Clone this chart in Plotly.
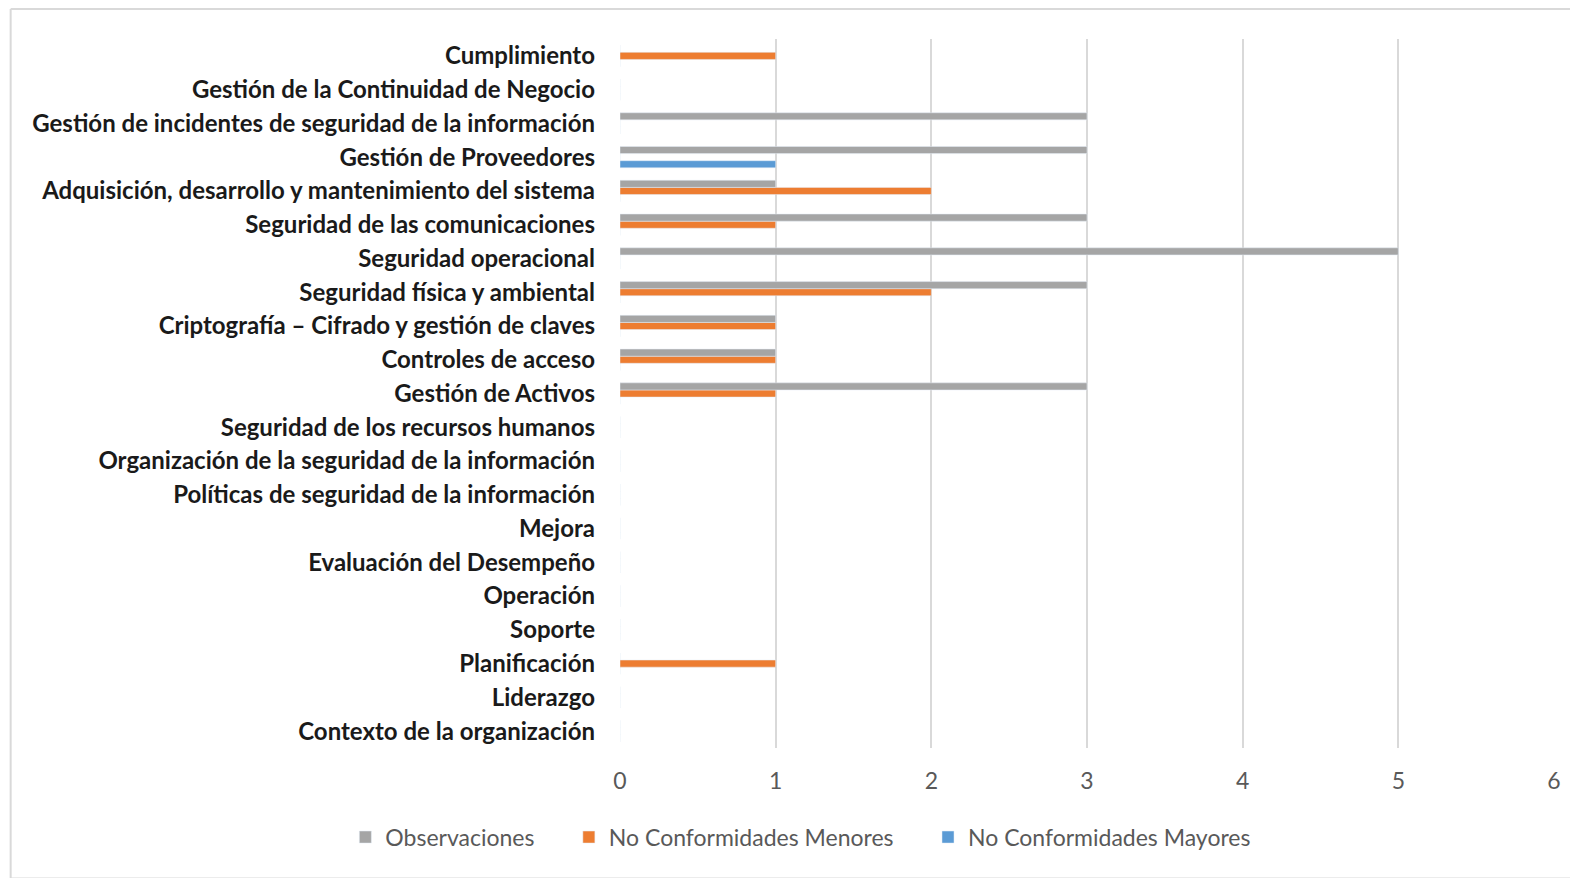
"""Hallazgos de auditoría por dominio (barras horizontales agrupadas)."""

import plotly.graph_objects as go

categorias = [
    "Contexto de la organización",
    "Liderazgo",
    "Planificación",
    "Soporte",
    "Operación",
    "Evaluación del Desempeño",
    "Mejora",
    "Políticas de seguridad de la información",
    "Organización de la seguridad de la información",
    "Seguridad de los recursos humanos",
    "Gestión de Activos",
    "Controles de acceso",
    "Criptografía – Cifrado y gestión de claves",
    "Seguridad física y ambiental",
    "Seguridad operacional",
    "Seguridad de las comunicaciones",
    "Adquisición, desarrollo y mantenimiento del sistema",
    "Gestión de Proveedores",
    "Gestión de incidentes de seguridad de la información",
    "Gestión de la Continuidad de Negocio",
    "Cumplimiento",
]

observaciones = [0, 0, 0, 0, 0, 0, 0, 0, 0, 0, 3, 1, 1, 3, 5, 3, 1, 3, 3, 0, 0]
nc_menores = [0, 0, 1, 0, 0, 0, 0, 0, 0, 0, 1, 1, 1, 2, 0, 1, 2, 0, 0, 0, 1]
nc_mayores = [0, 0, 0, 0, 0, 0, 0, 0, 0, 0, 0, 0, 0, 0, 0, 0, 0, 1, 0, 0, 0]

x_ticks = [0, 1, 2, 3, 4, 5, 6]

pad = '\u00a0' * 5  # extra room between legend entries

fig = go.Figure()

# Excel puts the first series at the bottom of each group, so add in reverse
fig.add_trace(go.Bar(
    y=categorias, x=nc_mayores, orientation='h',
    name='No Conformidades Mayores', marker=dict(color='#5B9BD5'),
))
fig.add_trace(go.Bar(
    y=categorias, x=nc_menores, orientation='h',
    name='No Conformidades Menores' + pad, marker=dict(color='#ED7D31'),
))
fig.add_trace(go.Bar(
    y=categorias, x=observaciones, orientation='h',
    name='Observaciones' + pad, marker=dict(color='#A5A5A5'),
))

fig.update_xaxes(
    range=[0, 6], tickvals=x_ticks, showgrid=True, gridcolor='#D9D9D9',
    gridwidth=2, zeroline=False, showline=False, ticks='',
    tickfont=dict(family='Lato', size=23, color='#595959'),
    ticklabelstandoff=17,
)
fig.update_yaxes(
    type='category', categoryorder='array', categoryarray=categorias,
    showgrid=False, zeroline=False, showline=False, ticks='',
    tickfont=dict(family='Lato', size=24, color='#1A1A1A', weight='bold'),
    ticklabelstandoff=24,
)

# thin frame around the chart area (left, top, bottom edges)
frame = dict(type='line', xref='paper', yref='paper',
             line=dict(color='#D9D9D9', width=2))
fig.add_shape(**frame, x0=-0.6524, x1=-0.6524, y0=-0.184, y1=1.0423)
fig.add_shape(**frame, x0=-0.6524, x1=1.1, y0=1.0423, y1=1.0423)
fig.add_shape(**frame, x0=-0.6524, x1=1.1, y0=-0.184, y1=-0.184)

fig.update_layout(
    barmode='group',
    bargap=0.37,
    bargroupgap=0,
    plot_bgcolor='white',
    paper_bgcolor='white',
    width=1570,
    height=870,
    margin=dict(l=612, r=24, t=31, b=130),
    showlegend=True,
    legend=dict(
        orientation='h', traceorder='reversed',
        xref='container', yref='container',
        x=0.505, y=0.047, xanchor='center', yanchor='middle',
        font=dict(family='Lato', size=23, color='#595959'),
        itemwidth=30,
    ),
)

fig.write_html("out.html")
